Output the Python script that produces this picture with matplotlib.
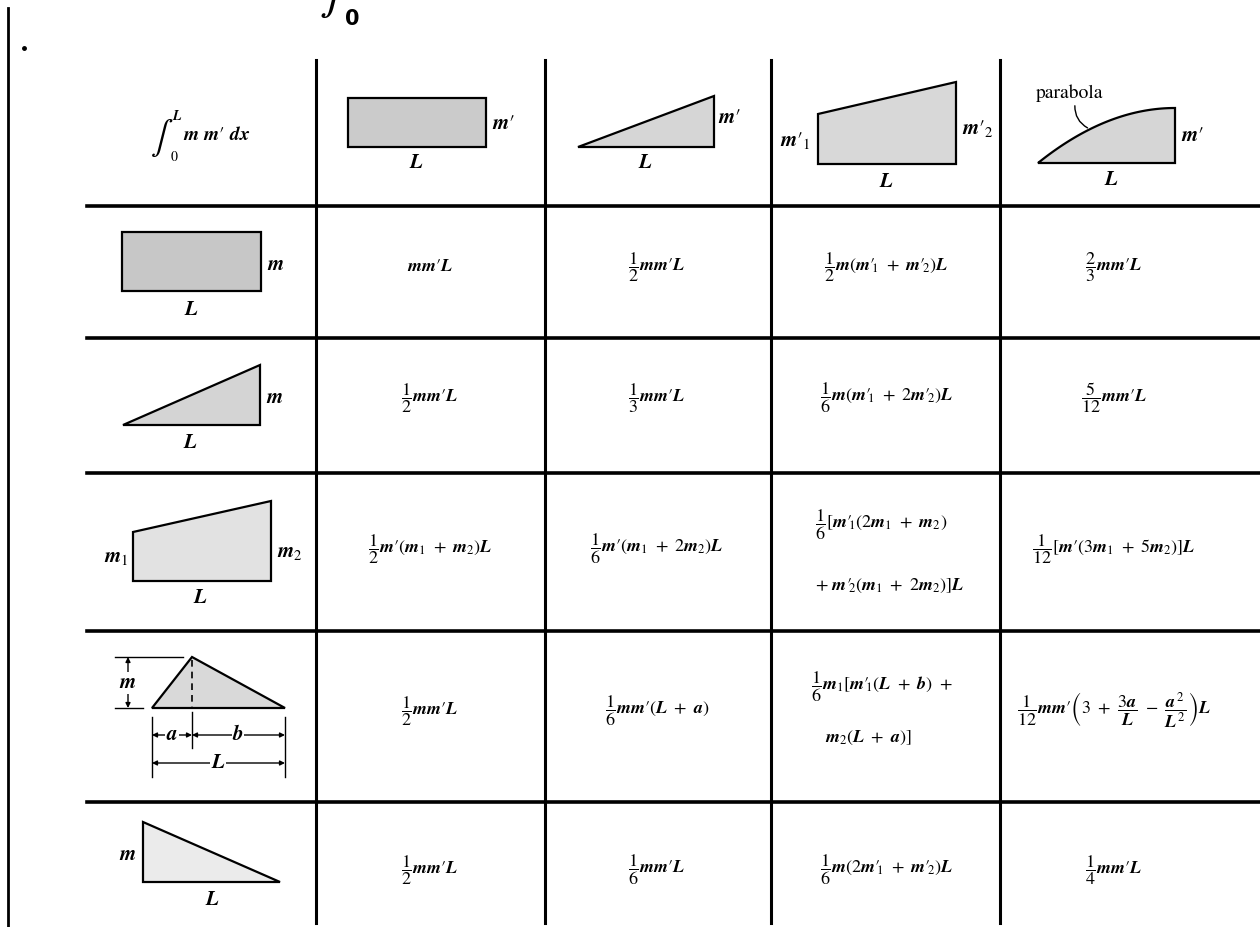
import numpy as np
import matplotlib.pyplot as plt
from matplotlib.patches import Polygon

plt.rcParams['mathtext.fontset'] = 'custom'
plt.rcParams['mathtext.rm'] = 'STIXGeneral'
plt.rcParams['mathtext.it'] = 'STIXGeneral:italic:bold'
plt.rcParams['mathtext.bf'] = 'STIXGeneral:bold'
plt.rcParams['mathtext.fallback'] = 'stix'
plt.rcParams['font.family'] = ['STIXGeneral', 'DejaVu Serif']

W, H = 1260, 927

# table grid of the scanned page (pixels)
col_lines = [316, 545, 771, 1000]
row_lines = [206, 338, 473, 631, 802]
col_x = [430, 657, 886, 1114]
row_y = [267, 398, 549, 711, 870]

# m'_1 / m'_2 with the index tucked under the prime
P1 = r"m\prime_{\!\!1}"
P2 = r"m\prime_{\!\!2}"

# integrals of m*m' for each pair of diagrams, one list per row
row1 = [r"$mm\prime L$", r"$\dfrac{1}{2}mm\prime L$", r"$\dfrac{1}{2}m(" + P1 + r"\ +\ " + P2 + r")L$",
        r"$\dfrac{2}{3}mm\prime L$"]
row2 = [r"$\dfrac{1}{2}mm\prime L$", r"$\dfrac{1}{3}mm\prime L$",
        r"$\dfrac{1}{6}m(" + P1 + r"\ +\ 2" + P2 + r")L$", r"$\dfrac{5}{12}mm\prime L$"]
row3 = [r"$\dfrac{1}{2}m\prime(m_1\ +\ m_2)L$", r"$\dfrac{1}{6}m\prime(m_1\ +\ 2m_2)L$", None,
        r"$\dfrac{1}{12}[m\prime(3m_1\ +\ 5m_2)]L$"]
row4 = [r"$\dfrac{1}{2}mm\prime L$", r"$\dfrac{1}{6}mm\prime(L\ +\ a)$", None,
        r"$\dfrac{1}{12}mm\prime\left(3\ +\ \dfrac{3a}{L}\ -\ \dfrac{a^2}{L^2}\right)L$"]
row5 = [r"$\dfrac{1}{2}mm\prime L$", r"$\dfrac{1}{6}mm\prime L$",
        r"$\dfrac{1}{6}m(2" + P1 + r"\ +\ " + P2 + r")L$", r"$\dfrac{1}{4}mm\prime L$"]
rows = [row1, row2, row3, row4, row5]

# the two cells written on two lines
split_cells = {
    (2, 2): [(815, 525, r"$\dfrac{1}{6}[" + P1 + r"(2m_1\ +\ m_2)$"),
             (815, 586, r"$+\ " + P2 + r"(m_1\ +\ 2m_2)]L$")],
    (3, 2): [(811, 687, r"$\dfrac{1}{6}m_1[" + P1 + r"(L\ +\ b)\ +$"),
             (825, 738, r"$m_2(L\ +\ a)]$")],
}

fig = plt.figure(figsize=(W / 100, H / 100), dpi=100)
ax = fig.add_axes([0, 0, 1, 1])
ax.set_xlim(0, W)
ax.set_ylim(H, 0)
ax.axis('off')

# grid
ax.plot([8, 8], [8, H], color='black', lw=2.0)
for x in col_lines:
    ax.plot([x, x], [60, 923], color='black', lw=2.2)
for y in row_lines:
    ax.plot([87, W], [y, y], color='black', lw=2.6)
ax.plot([24], [48], marker='o', ms=2.5, color='black')

# piece of the heading above the table
ax.text(335, 20, r"$\int$", fontsize=34, ha='center', va='bottom', math_fontfamily='stix')
ax.text(352, 29, "0", fontsize=15, fontweight='bold', family='DejaVu Sans', ha='center', va='bottom')

# cell formulas
for i, row in enumerate(rows):
    for j, txt in enumerate(row):
        if txt is None:
            continue
        ax.text(col_x[j], row_y[i], txt, fontsize=13, ha='center', va='center')
for lines in split_cells.values():
    for x, y, txt in lines:
        ax.text(x, y, txt, fontsize=13, ha='left', va='center')


def shape(pts, fc):
    ax.add_patch(Polygon(pts, closed=True, facecolor=fc, edgecolor='black', lw=1.6, joinstyle='miter'))


def label(x, y, s, size=15):
    ax.text(x, y, s, fontsize=size, ha='center', va='center')


# header cell
ax.text(162, 137, r"$\int$", fontsize=24, ha='center', va='center', math_fontfamily='stix')
ax.text(177, 116, "L", fontsize=10, style='italic', fontweight='bold', ha='center', va='center')
ax.text(174, 157, "0", fontsize=10, ha='center', va='center')
ax.text(217, 135, r"$m\ m\prime\ dx$", fontsize=14, ha='center', va='center')

# header diagrams (m')
shape([(348, 98), (486, 98), (486, 147), (348, 147)], '#cbcbcb')
label(504, 124, r"$m\prime$")
label(416, 163, r"$L$")

shape([(578, 147), (714, 147), (714, 96)], '#d6d6d6')
label(730, 118, r"$m\prime$")
label(645, 163, r"$L$")

shape([(818, 164), (956, 164), (956, 82), (818, 114)], '#d8d8d8')
label(795, 140, r"$m\prime_1$")
label(978, 128, r"$m\prime_2$")
label(886, 182, r"$L$")

px = np.linspace(1038, 1175, 60)
py = 108 + 55 * ((1175 - px) / 137) ** 2
shape(list(zip(px, py)) + [(1175, 163), (1038, 163)], '#d6d6d6')
ax.text(1070, 93, "parabola", fontsize=14, ha='center', va='center')
tx = 1090
ty = 108 + 55 * ((1175 - tx) / 137) ** 2
ax.annotate("", xy=(tx, ty), xytext=(1075, 103),
            arrowprops=dict(arrowstyle='-', lw=1.0, color='black', connectionstyle='arc3,rad=0.35'))
label(1193, 136, r"$m\prime$")
label(1111, 180, r"$L$")

# row diagrams (m)
shape([(122, 232), (261, 232), (261, 291), (122, 291)], '#c7c7c7')
label(276, 265, r"$m$")
label(191, 310, r"$L$")

shape([(123, 425), (260, 425), (260, 365)], '#d4d4d4')
label(275, 398, r"$m$")
label(190, 443, r"$L$")

shape([(133, 581), (271, 581), (271, 501), (133, 532)], '#e2e2e2')
label(116, 557, r"$m_1$")
label(290, 552, r"$m_2$")
label(200, 598, r"$L$")

shape([(152, 708), (192, 657), (285, 708)], '#d9d9d9')
ax.plot([192, 192], [660, 708], color='black', lw=1.2, ls=(0, (4, 3)))
ax.plot([192, 192], [712, 748], color='black', lw=1.0)
ax.plot([152, 152], [717, 777], color='black', lw=1.0)
ax.plot([285, 285], [717, 777], color='black', lw=1.0)
ax.plot([115, 183], [657, 657], color='black', lw=1.0)
ax.plot([115, 143], [708, 708], color='black', lw=1.0)
arrow = dict(arrowstyle='<|-|>', lw=1.0, color='black', mutation_scale=7, shrinkA=0, shrinkB=0)
ax.annotate("", xy=(128, 657), xytext=(128, 708), arrowprops=arrow)
ax.annotate("", xy=(152, 735), xytext=(192, 735), arrowprops=arrow)
ax.annotate("", xy=(192, 735), xytext=(285, 735), arrowprops=arrow)
ax.annotate("", xy=(152, 763), xytext=(285, 763), arrowprops=arrow)
white = dict(facecolor='white', edgecolor='none', pad=0.5)
for x, y, s in [(128, 683, r"$m$"), (172, 735, r"$a$"), (238, 735, r"$b$"), (218, 763, r"$L$")]:
    ax.text(x, y, s, fontsize=15, ha='center', va='center', bbox=white)

shape([(143, 822), (143, 882), (280, 882)], '#ebebeb')
label(128, 855, r"$m$")
label(212, 900, r"$L$")

fig.savefig('out.png', dpi=100)
